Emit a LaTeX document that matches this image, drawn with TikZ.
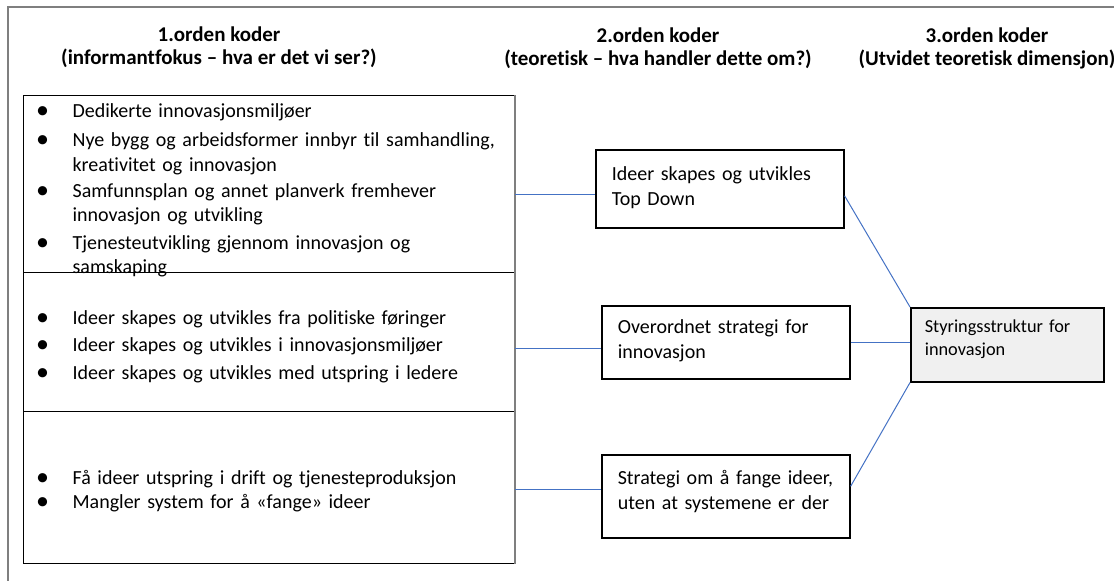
\documentclass[tikz,border=0pt]{standalone}
\usepackage{fontspec}
\setmainfont{Carlito}[Ligatures={TeX,NoCommon}]
\usepackage{graphicx}
\usepackage{xcolor}
\definecolor{linkblue}{HTML}{4472C4}
\definecolor{framegray}{HTML}{7F7F7F}
\newcommand{\pkt}{\makebox[37pt][l]{\hspace{0.5pt}\raisebox{-1.2pt}{\scalebox{1.3}{\textbullet}}}}
\newcommand{\ind}{\hspace*{37pt}}

\begin{document}
\begin{tikzpicture}[x=1pt,y=-1pt,
            head/.style={font=\bfseries\fontsize{21}{23}\selectfont, align=center},
            cell/.style={draw, line width=1.2pt, anchor=north west, minimum width=491pt, inner xsep=12pt, inner ysep=2pt, text width=467pt, align=left, text height=10pt, font=\fontsize{20}{24.5}\selectfont},
            box/.style={draw, line width=1.6pt, anchor=north west, minimum width=248pt, inner xsep=16pt, inner ysep=2pt, text width=216pt, align=left, text height=10pt, font=\fontsize{20}{25}\selectfont},
            link/.style={draw=linkblue, line width=1pt}]
        \useasboundingbox (0,0) rectangle (1114,581);
        \draw[framegray, line width=1.5pt] (8,581) -- (8,7) -- (1114,7);

        \node[head] (h1) at (219,47.5) {1.orden koder\\(informantfokus – hva er det vi ser?)};
        \node[head] (h2) at (658,48.5) {2.orden koder\\(teoretisk – hva handler dette om?)};
        \node[head] (h3) at (987,48.5) {3.orden koder\\(Utvidet teoretisk dimensjon)};

        \node[cell, minimum height=177pt, text depth=143pt] (cellA) at (23,95) {\pkt Dedikerte innovasjonsmiljøer\\[4.5pt]
            \pkt Nye bygg og arbeidsformer innbyr til samhandling,\\ \ind kreativitet og innovasjon\\[1.5pt]
            \pkt Samfunnsplan og annet planverk fremhever\\ \ind innovasjon og utvikling\\[3pt]
            \pkt Tjenesteutvikling gjennom innovasjon og\\ \ind samskaping};
        \node[cell, minimum height=139pt, text depth=46pt] (cellB) at (23,272) {\pkt Ideer skapes og utvikles fra politiske føringer\\[2.5pt]
            \pkt Ideer skapes og utvikles i innovasjonsmiljøer\\[3.5pt]
            \pkt Ideer skapes og utvikles med utspring i ledere};
        \node[cell, minimum height=152pt, text depth=17pt] (cellC) at (23,411) {\pkt Få ideer utspring i drift og tjenesteproduksjon\\
            \pkt Mangler system for å «fange» ideer};
        \draw[framegray, line width=1.5pt] (cellA.north east) -- (cellC.south east);

        \node[box, minimum height=78pt, text depth=26pt] (b1) at (595,149) {Ideer skapes og utvikles\\Top Down};
        \node[box, minimum height=73pt, text depth=28pt] (b2) at (601,305) {Overordnet strategi for\\innovasjon};
        \node[box, minimum height=83pt, text depth=33pt] (b3) at (601,454) {Strategi om å fange ideer,\\uten at systemene er der};

        \node[draw, line width=1.6pt, fill=black!6, anchor=north west, minimum width=193pt, minimum height=74pt, inner xsep=14pt, inner ysep=2pt, text width=165pt, align=left, text height=10pt, text depth=34pt, font=\fontsize{18.3}{23}\selectfont] (styr) at (910,307) {Styringsstruktur for\\innovasjon};

        \draw[link] ([yshift=-6pt]b1.west -| cellA.east) -- ([yshift=-6pt]b1.west);
        \draw[link] ([yshift=-6.5pt]b2.west -| cellB.east) -- ([yshift=-6.5pt]b2.west);
        \draw[link] ([yshift=6.5pt]b3.west -| cellC.east) -- ([yshift=6.5pt]b3.west);

        \draw[link] ([yshift=-7pt]b1.east) -- (styr.north west);
        \draw[link] (b2.east) -- (b2.east -| styr.west);
        \draw[link] ([yshift=10pt]b3.east) -- (styr.south west);
    \end{tikzpicture}
\end{document}
